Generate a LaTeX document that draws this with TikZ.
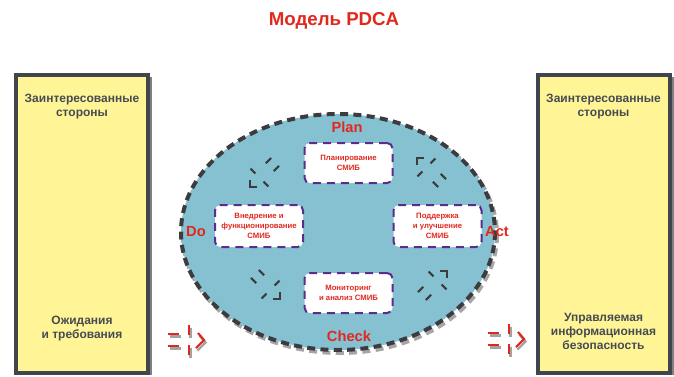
\documentclass[tikz,border=0pt]{standalone}
\usepackage{fontspec}
\setmainfont{Liberation Sans}
\definecolor{boxfill}{RGB}{255,245,150}
\definecolor{boxborder}{RGB}{65,70,76}
\definecolor{txtgray}{RGB}{70,75,82}
\definecolor{ellfill}{RGB}{133,193,208}
\definecolor{dashgray}{RGB}{60,60,64}
\definecolor{boxpurple}{RGB}{90,45,140}
\definecolor{pdcared}{RGB}{225,40,30}
\begin{document}
\begin{tikzpicture}[x=0.75pt,y=-0.75pt,
  outerbox/.style={draw=boxborder, line width=3pt, fill=boxfill, minimum width=99pt, minimum height=223.5pt, inner sep=0pt},
  boxshadow/.style={fill=black!50, minimum width=99pt, minimum height=223.5pt, inner sep=0pt},
  sidetext/.style={text=txtgray, align=center, font=\fontsize{9}{10.5}\selectfont\bfseries},
  stage/.style={text=pdcared, font=\fontsize{11}{13}\selectfont\bfseries},
  stepbox/.style={draw=boxpurple, fill=white, rounded corners=4pt, line width=1.5pt, dash pattern=on 6pt off 4.5pt, align=center, text=pdcared, font=\fontsize{5.8}{7.5}\selectfont\bfseries, minimum width=66pt, minimum height=30pt, inner sep=1pt},
  cyc/.style={draw=dashgray, line width=1.6pt, line join=miter},
  redarr/.style={draw=pdcared, line width=1.6pt, line join=miter},
  redshadow/.style={draw=black!60, opacity=0.6, line width=1.8pt},
  cycarrow/.pic={
    \draw[cyc] (-5,5) -- (0,0) -- (-5,-5);
    \draw[cyc] (-13.4,5.8) -- (-13.4,12.6);
    \draw[cyc] (-13.4,-5.8) -- (-13.4,-12.6);
    \draw[cyc] (-28,5.6) -- (-35.5,5.6);
    \draw[cyc] (-28,-5.6) -- (-35.5,-5.6);
  },
  redarrow/.pic={
    \begin{scope}[shift={(1.5,2.5)}]
      \draw[redshadow] (-6,-7) -- (0,0) -- (-8,8);
      \draw[redshadow] (-15,-15) -- (-15,-5);
      \draw[redshadow] (-15,5) -- (-15,15);
      \draw[redshadow] (-36,-6) -- (-25,-6);
      \draw[redshadow] (-36,6) -- (-25,6);
    \end{scope}
    \draw[redarr] (-6,-7) -- (0,0) -- (-8,8);
    \draw[redarr] (-15,-15) -- (-15,-5);
    \draw[redarr] (-15,5) -- (-15,15);
    \draw[redarr] (-36,-6) -- (-25,-6);
    \draw[redarr] (-36,6) -- (-25,6);
  }
]
\useasboundingbox (0,0) rectangle (674,376);

% title
\node[text=pdcared, font=\fontsize{14}{16}\selectfont\bfseries] (title) at (334,21) {Модель PDCA};

% side boxes
\node[boxshadow] (lsh) at (86,226) {};
\node[outerbox] (lbox) at (82,224) {};
\node[boxshadow] (rsh) at (607.5,226) {};
\node[outerbox] (rbox) at (603.5,224) {};

\node[sidetext] (lt1) at (82,107) {Заинтересованные\\стороны};
\node[sidetext] (lt2) at (82,329) {Ожидания\\и требования};
\node[sidetext] (rt1) at (603.5,107) {Заинтересованные\\стороны};
\node[sidetext] (rt2) at (603.5,331) {Управляемая\\информационная\\безопасность};

% ellipse
\draw[black, opacity=0.35, line width=3pt, dash pattern=on 6pt off 4pt] (340,235) ellipse [x radius=157, y radius=118];
\draw[fill=ellfill, draw=dashgray, line width=3pt, dash pattern=on 6pt off 4pt] (338,232) ellipse [x radius=157, y radius=118];

% stage labels
\node[stage] (plan) at (347,127) {Plan};
\node[stage] (do) at (196,232) {Do};
\node[stage] (act) at (497,232) {Act};
\node[stage] (check) at (349,336) {Check};

% inner boxes
\node[stepbox] (pb) at (348.5,163) {Планирование\\СМИБ};
\node[stepbox, minimum height=31.5pt] (db) at (259,226) {Внедрение и\\функционирование\\СМИБ};
\node[stepbox, minimum height=31.5pt] (ab) at (437.5,226) {Поддержка\\и улучшение\\СМИБ};
\node[stepbox] (cb) at (348.5,293) {Мониторинг\\и анализ СМИБ};

% cycle arrows
\path (250,187) pic[rotate=225] {cycarrow};
\path (417,158) pic[rotate=135] {cycarrow};
\path (280,299) pic[rotate=-45] {cycarrow};
\path (447,271) pic[rotate=45] {cycarrow};

% red arrows
\path (204,340) pic {redarrow};
\path (524,339) pic {redarrow};
\end{tikzpicture}
\end{document}
